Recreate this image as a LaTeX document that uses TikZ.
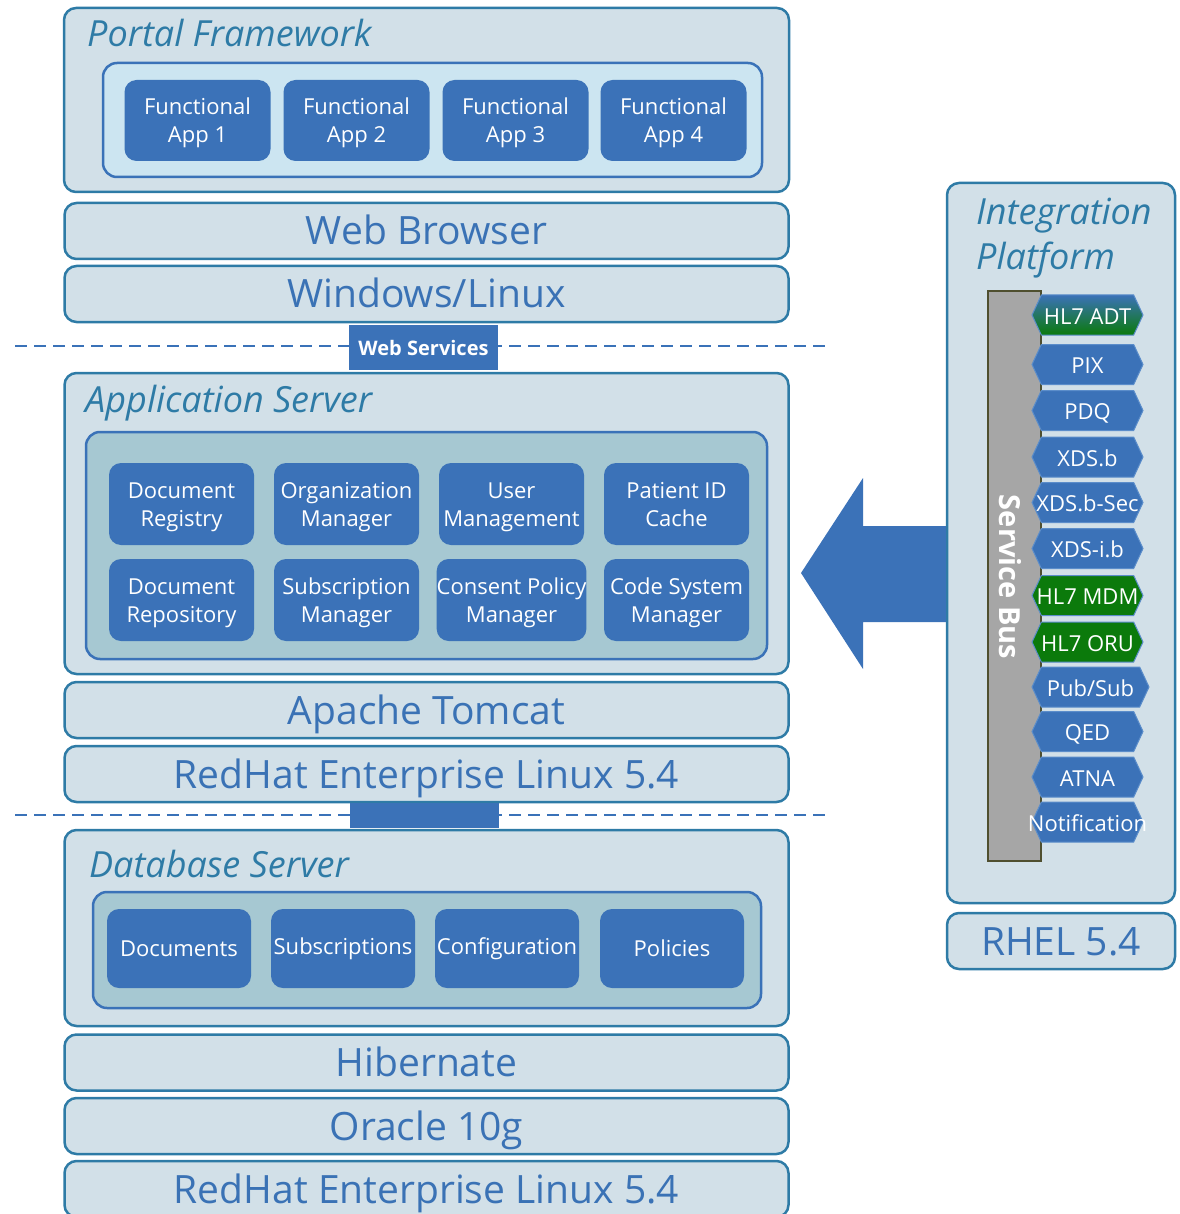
\documentclass[tikz,border=0pt]{standalone}
\usepackage{fontspec}
\setmainfont{Open Sans}
\usetikzlibrary{shapes.symbols}

\definecolor{tierfill}{HTML}{D2E0E8}
\definecolor{tierline}{HTML}{2E7BA6}
\definecolor{titletext}{HTML}{2E7BA6}
\definecolor{layertext}{HTML}{3A72B5}
\definecolor{portalin}{HTML}{CCE5F1}
\definecolor{appin}{HTML}{A6C8D2}
\definecolor{boxline}{HTML}{3A72B8}
\definecolor{compfill}{HTML}{3B72B8}
\definecolor{tagline}{HTML}{5B8DCA}
\definecolor{taggreen}{HTML}{0B7A0B}
\definecolor{busfill}{HTML}{A6A6A6}
\definecolor{busline}{HTML}{4F4F2F}

\tikzset{
  tier/.style={draw=tierline, fill=tierfill, line width=2.5pt, rounded corners=12pt, inner sep=0pt},
  layer/.style={tier, minimum width=724pt, minimum height=56pt, text=layertext, text height=28pt, text depth=0pt, font=\fontsize{39}{42}\selectfont},
  tiertitle/.style={anchor=base west, inner sep=0pt, text=titletext, font=\itshape\fontsize{36}{40}\selectfont},
  inbox/.style={draw=boxline, line width=2.5pt, rounded corners=14pt, inner sep=0pt},
  comp/.style={fill=compfill, rounded corners=12pt, inner sep=0pt, text=white, align=center, font=\fontsize{22}{28}\selectfont},
  app/.style={comp, minimum width=146pt, minimum height=81pt, text height=44pt, text depth=0pt},
  svc/.style={comp, minimum width=145pt, minimum height=82pt, text height=44pt, text depth=0pt},
  store/.style={comp, minimum width=144pt, minimum height=79pt},
  tag/.style={shape=signal, signal to=east and west, signal pointer angle=130, draw=tagline, line width=1pt, fill=compfill, inner sep=0pt, minimum width=111pt, minimum height=40pt, text=white, text height=18pt, text depth=0pt, font=\fontsize{22}{24}\selectfont},
  greentag/.style={tag, fill=taggreen},
  sep/.style={boxline, line width=2pt, dash pattern=on 12pt off 7pt}
}
\newcommand{\tagtxt}[1]{\makebox[0pt]{#1}}

\begin{document}
\begin{tikzpicture}[x=1pt,y=-1pt]
\useasboundingbox (0,0) rectangle (1179,1214);

% Separadores
\coordinate (sepA1) at (15,346);
\coordinate (sepA2) at (825,346);
\coordinate (sepB1) at (15,815);
\coordinate (sepB2) at (825,815);
\draw[sep] (sepA1) -- (sepA2);
\draw[sep] (sepB1) -- (sepB2);

% Portal
\node[tier, minimum width=725pt, minimum height=184pt] (portal) at (426.5,100) {};
\node[tiertitle] (portaltitle) at (87,47) {Portal Framework};
\node[inbox, fill=portalin, minimum width=659pt, minimum height=114pt] (portalin) at (432.5,120) {};
\node[app] (app1) at (197.5,120.5) {Functional\\App 1};
\node[app] (app2) at (356.5,120.5) {Functional\\App 2};
\node[app] (app3) at (515.5,120.5) {Functional\\App 3};
\node[app] (app4) at (673.5,120.5) {Functional\\App 4};

\node[layer] (browser) at (426.5,231) {Web Browser};
\node[layer] (winlin) at (426.5,294) {Windows/Linux};

\node[fill=compfill, minimum width=149pt, minimum height=45pt, inner sep=0pt, text=white, font=\bfseries\fontsize{20}{22}\selectfont] (websvc) at (423.5,347.5) {Web Services};

% Servidor de aplicaciones
\node[tier, minimum width=724pt, minimum height=301pt] (appsrv) at (426.5,523.5) {};
\node[tiertitle] (appsrvtitle) at (85,412) {Application Server};
\node[inbox, fill=appin, minimum width=681pt, minimum height=227pt] (appin) at (426.5,545.5) {};
\node[svc] (docreg) at (181.5,504) {Document\\Registry};
\node[svc] (orgmgr) at (346.5,504) {Organization\\Manager};
\node[svc] (usermgt) at (511.5,504) {User\\Management};
\node[svc] (pidcache) at (676.5,504) {Patient ID\\Cache};
\node[svc] (docrep) at (181.5,600) {Document\\Repository};
\node[svc] (submgr) at (346.5,600) {Subscription\\Manager};
\node[svc] (consent) at (511.5,600) {Consent Policy\\Manager};
\node[svc] (codesys) at (676.5,600) {Code System\\Manager};

\node[layer] (tomcat) at (426.5,710) {Apache Tomcat};
\node[layer] (rhelapp) at (426.5,774) {RedHat Enterprise Linux 5.4};

\node[fill=compfill, minimum width=149pt, minimum height=25pt, inner sep=0pt] (dblink) at (424.5,815.5) {};

% Servidor de base de datos
\node[tier, minimum width=724pt, minimum height=196pt] (dbsrv) at (426.5,928) {};
\node[tiertitle] (dbsrvtitle) at (89,877) {Database Server};
\node[inbox, fill=appin, minimum width=668pt, minimum height=116pt] (dbin) at (427,950) {};
\node[store] (docs) at (179,948.5) {Documents};
\node[store] (subs) at (343,948.5) {Subscriptions};
\node[store] (config) at (507,948.5) {Configuration};
\node[store] (policies) at (672,948.5) {Policies};

\node[layer] (hibernate) at (426.5,1062.5) {Hibernate};
\node[layer] (oracle) at (426.5,1126) {Oracle 10g};
\node[layer] (rheldb) at (426.5,1189) {RedHat Enterprise Linux 5.4};

% Plataforma de integracion
\node[tier, minimum width=228pt, minimum height=720pt] (intplat) at (1061,543) {};
\node[tiertitle] (inttitle1) at (976,225) {Integration};
\node[tiertitle] (inttitle2) at (976,270) {Platform};
\node[draw=busline, fill=busfill, line width=1.5pt, minimum width=53pt, minimum height=570pt, inner sep=0pt] (bus) at (1014.5,576) {};
\node[rotate=-90, text=white, font=\bfseries\fontsize{29}{30}\selectfont] (buslabel) at (1010,577) {Service Bus};

\node[tag, fill=none, top color=compfill, bottom color=taggreen] (adt) at (1087.5,315) {\tagtxt{HL7 ADT}};
\node[tag] (pix) at (1087.5,364.5) {\tagtxt{PIX}};
\node[tag] (pdq) at (1087.5,410.5) {\tagtxt{PDQ}};
\node[tag] (xdsb) at (1087.5,457) {\tagtxt{XDS.b}};
\node[tag] (xdssec) at (1087.5,502.5) {\tagtxt{XDS.b-Sec}};
\node[tag] (xdsi) at (1087.5,548.5) {\tagtxt{XDS-i.b}};
\node[greentag] (mdm) at (1087.5,595.5) {\tagtxt{HL7 MDM}};
\node[greentag] (oru) at (1087.5,642) {\tagtxt{HL7 ORU}};
\node[tag, minimum width=117pt] (pubsub) at (1090.5,687) {\tagtxt{Pub/Sub}};
\node[tag] (qed) at (1087.5,731.5) {\tagtxt{QED}};
\node[tag] (atna) at (1087.5,777) {\tagtxt{ATNA}};
\node[tag] (notif) at (1087.5,822) {\tagtxt{Notification}};

\node[tier, minimum width=228pt, minimum height=56pt, text=layertext, text height=28pt, text depth=0pt, font=\fontsize{39}{42}\selectfont] (rhelint) at (1061,941) {RHEL 5.4};

% Flecha
\fill[compfill] (intplat.west |- 0,526) -- (863,526) -- (863,478) -- (801,573)
  -- (863,669) -- (863,622) -- (intplat.west |- 0,622) -- cycle;
\end{tikzpicture}
\end{document}
